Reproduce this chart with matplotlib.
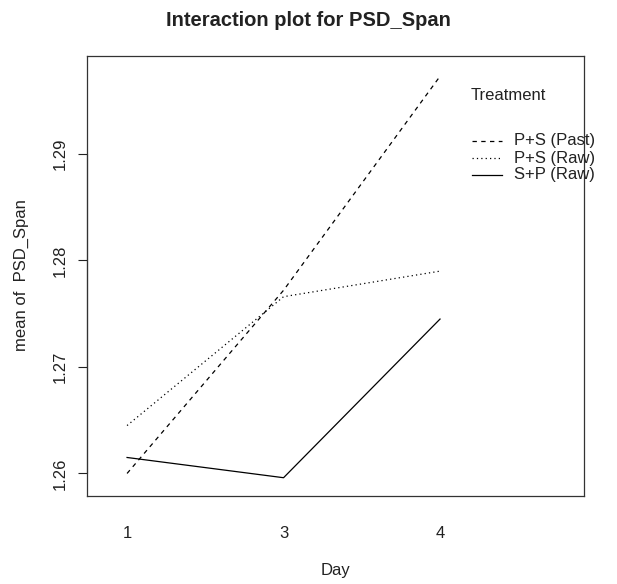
import matplotlib.pyplot as plt

# interaction plot: mean of PSD_Span by Day and Treatment
days = ["1", "3", "4"]
treatments = ["P+S (Past)", "P+S (Raw)", "S+P (Raw)"]
past_ps = [1.2600, 1.2772, 1.2973]
raw_ps = [1.2645, 1.2766, 1.2790]
raw_sp = [1.2615, 1.2596, 1.2745]
styles = [(0, (3.5, 3.5)), (0, (1, 2.5)), "-"]

W, H = 617, 584
plt.rcParams['font.family'] = ['Liberation Sans', 'DejaVu Sans']

fig = plt.figure(figsize=(W / 100, H / 100), dpi=100)
ax = fig.add_axes([87 / W, 1 - 495.5 / H, (584 - 87) / W, (495.5 - 55.5) / H])

def ftext(x, y, s, **kw):
    fig.text(x / W, 1 - y / H, s, **kw)

xpos = [1, 2, 3]
for vals, ls in zip([past_ps, raw_ps, raw_sp], styles):
    ax.plot(xpos, vals, color="black", lw=0.9, linestyle=ls)

ax.set_xlim(0.744, 3.92)
ax.set_ylim(1.25793, 1.29925)
ax.set_xticks(xpos)
ax.set_xticklabels(days)
ax.set_yticks([1.26, 1.27, 1.28, 1.29])
ax.set_yticklabels(["1.26", "1.27", "1.28", "1.29"], rotation=90, va="center")
ax.tick_params(direction="out", length=6.5, width=0.8, labelsize=12, pad=7, colors="#222222")
ax.tick_params(axis="x", length=0, pad=22)
ax.spines["top"].set_visible(False)
ax.spines["right"].set_visible(False)
ax.spines["bottom"].set_visible(False)
ax.spines["left"].set_bounds(1.26, 1.29)
for sp in ax.spines.values():
    sp.set_linewidth(0.8)

# outer box, like R's box()
box = fig.add_axes(ax.get_position())
box.patch.set_visible(False)
box.set_xticks([])
box.set_yticks([])
for sp in box.spines.values():
    sp.set_linewidth(0.9)
    sp.set_color("#333333")

ftext(308, 21, "Interaction plot for PSD_Span", ha="center", va="center",
      fontsize=14.5, fontweight="bold", color="#222222")
ftext(336, 571, "Day", ha="center", va="center", fontsize=12, color="#222222")
ftext(21, 275, "mean of  PSD_Span", ha="center", va="center", rotation=90,
      fontsize=12, color="#222222")

# legend
ftext(471, 96, "Treatment", ha="left", va="center", fontsize=12, color="#222222")
for i, (name, ls) in enumerate(zip(treatments, styles)):
    y = 141 + i * 17
    fig.add_artist(plt.Line2D([472 / W, 502 / W], [1 - y / H, 1 - y / H],
                              color="black", lw=0.9, linestyle=ls))
    ftext(514, y, name, ha="left", va="center", fontsize=12, color="#222222")

fig.savefig("out.png", dpi=100)
